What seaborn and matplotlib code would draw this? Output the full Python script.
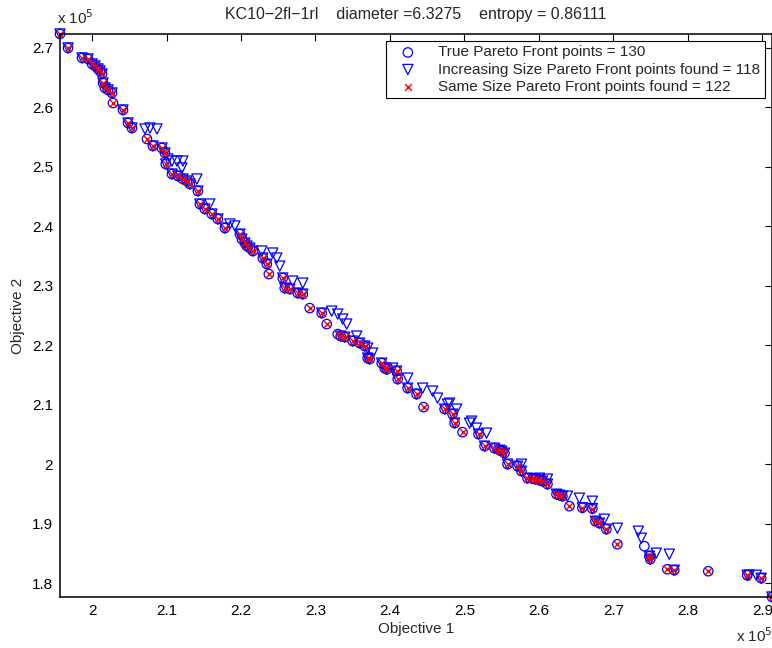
import seaborn as sns
import matplotlib.pyplot as plt
import pandas as pd
from matplotlib.ticker import FuncFormatter, MultipleLocator

# 真实 Pareto 前沿 (Objective 1, Objective 2)
true_x = [195700, 196780, 198660, 199460, 200000, 200400, 200800, 201070, 201340, 201480,
          201740, 202150, 202680, 202820, 204160, 204830, 205360, 207380, 208180, 209390,
          209790, 209900, 210730, 211530, 212200, 212740, 213140, 214210, 214480, 215150,
          216090, 216900, 217840, 219850, 220120, 220520, 220790, 221190, 221590, 222930,
          223470, 223740, 225610, 225880, 226550, 227620, 228300, 229230, 230840, 231510,
          232990, 233390, 233930, 235000, 235940, 236610, 237010, 237280, 238890, 239290,
          239560, 240900, 241040, 242380, 243580, 244520, 247340, 248410, 248680, 249750,
          251900, 252700, 254040, 254710, 254980, 255380, 255790, 257130, 257660, 258470,
          259140, 259540, 260080, 260480, 261150, 262360, 262760, 263160, 264100, 265840,
          267180, 267590, 268120, 269060, 270540, 274160, 274830, 274960, 277240, 278180,
          282740, 287970, 289850, 291300]
true_y = [272350, 270000, 268320, 268150, 267310, 266970, 266470, 266130, 265630, 264110,
          263270, 262940, 262430, 260750, 259570, 257390, 256540, 254690, 253520, 253180,
          252340, 250490, 248810, 248470, 247970, 247630, 247130, 245950, 243760, 242920,
          242080, 241240, 239720, 238710, 237870, 237200, 236700, 236360, 235860, 234680,
          233670, 231990, 231320, 229630, 229460, 228790, 228620, 226270, 225430, 223580,
          221900, 221560, 221390, 220720, 220380, 219880, 217860, 217690, 217020, 216180,
          215980, 215670, 214330, 212810, 211800, 209620, 209280, 208440, 206930, 205410,
          205080, 203060, 202720, 202380, 202220, 201880, 200030, 199690, 198850, 197670,
          197600, 197510, 197340, 197170, 196670, 194980, 194820, 194650, 192970, 192700,
          192550, 190440, 190110, 189100, 186570, 186240, 184560, 184050, 182370, 182200,
          182030, 181360, 180850, 177700]

# Same Size 未找到的真实点
same_missing_x = [274160]

# Increasing Size 未找到的真实点 + 额外找到的(被支配)点
inc_missing_x = [202820, 207380, 223740, 229230, 231510, 232990, 244520, 249750,
                 264100, 270540, 274160, 277240, 282740]
inc_extra_x = [207110, 207780, 208720, 210190, 210730, 211400, 212200, 212070, 214080, 215820,
               218510, 219180, 222800, 224270, 224810, 225210, 226950, 228300, 232180, 232990,
               233660, 234200, 235540, 237010, 237680, 240360, 242380, 244390, 245730, 246400,
               248010, 248950, 250960, 251630, 247740, 250690, 252970, 257660, 260080, 261150,
               263830, 265440, 267180, 268790, 270540, 273350, 273750, 275760, 277510, 288240,
               289180]
inc_extra_y = [256380, 256540, 256380, 251330, 250990, 250990, 250990, 249820, 247970, 243760,
               240400, 240060, 235860, 235520, 234680, 233330, 230810, 230470, 225760, 225260,
               224420, 223580, 221560, 219540, 218700, 216180, 214500, 212810, 212310, 211130,
               210290, 209280, 207260, 206080, 210120, 206930, 205240, 200030, 197670, 197510,
               194650, 194310, 193800, 190780, 189260, 188760, 187580, 185060, 184890, 181360,
               181360]

true_df = pd.DataFrame({"x": true_x, "y": true_y})
same_df = true_df[~true_df["x"].isin(same_missing_x)]
inc_df = pd.concat([true_df[~true_df["x"].isin(inc_missing_x)],
                    pd.DataFrame({"x": inc_extra_x, "y": inc_extra_y})])

sns.set_style("white")
plt.rcParams['font.family'] = ['Liberation Sans', 'DejaVu Sans']
plt.rcParams['axes.unicode_minus'] = True

fig = plt.figure(figsize=(7.72, 6.48), dpi=100)
ax = fig.add_axes([60 / 772, 51 / 648, 712 / 772, 563 / 648])

sns.scatterplot(data=true_df, x="x", y="y", ax=ax, marker="o", s=46,
                facecolor="none", edgecolor="blue", linewidth=0.9, clip_on=False,
                label="True Pareto Front points = 130")
sns.scatterplot(data=inc_df, x="x", y="y", ax=ax, marker="v", s=54,
                facecolor="none", edgecolor="blue", linewidth=0.9, clip_on=False,
                label="Increasing Size Pareto Front points found = 118")
sns.scatterplot(data=same_df, x="x", y="y", ax=ax, marker="x", s=24,
                color="red", linewidth=1.0, clip_on=False,
                label="Same Size Pareto Front points found = 122")

ax.set_xlim(min(true_x), max(true_x))
ax.set_ylim(min(true_y), max(true_y))
ax.xaxis.set_major_locator(MultipleLocator(10000))
ax.yaxis.set_major_locator(MultipleLocator(10000))
fmt = FuncFormatter(lambda v, p: f"{v / 1e5:g}")
ax.xaxis.set_major_formatter(fmt)
ax.yaxis.set_major_formatter(fmt)
ax.tick_params(direction="in", top=True, right=True, length=5, width=0.8,
               labelsize=11, colors="black", pad=5)
for sp in ax.spines.values():
    sp.set_color("black")
    sp.set_linewidth(1.1)

ax.set_xlabel("Objective 1", fontsize=11, labelpad=3)
ax.set_ylabel("Objective 2", fontsize=11, labelpad=5)
ax.set_title("KC10\u22122fl\u22121rl    diameter =6.3275    entropy = 0.86111",
             fontsize=11.5, pad=11)

fig.text(57 / 772, 1 - 18 / 648, r"x 10$^5$", fontsize=11, va="center", ha="left")
fig.text(736 / 772, 1 - 636 / 648, r"x 10$^5$", fontsize=11, va="center", ha="left")

leg = ax.legend(loc="upper right", fontsize=11, frameon=True, fancybox=False,
                framealpha=1, edgecolor="black", borderaxespad=0.45,
                handlelength=2.2, handletextpad=0.9, labelspacing=0.2,
                borderpad=0.3)
leg.get_frame().set_linewidth(0.8)

fig.savefig("out.png", dpi=100)
